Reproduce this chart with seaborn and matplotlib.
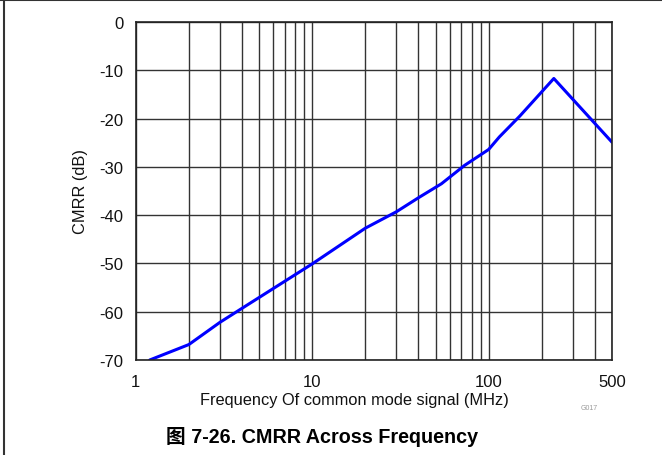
import matplotlib
matplotlib.use("Agg")
import matplotlib.pyplot as plt
import seaborn as sns
import pandas as pd
import numpy as np
from matplotlib.lines import Line2D
from matplotlib.ticker import FixedLocator, LogLocator, NullFormatter

freq_mhz = [1.2, 2.0, 3.0, 4.0, 10.0, 20.0, 30.0, 40.0, 54.0, 73.0, 100.0, 115.0, 150.0, 234.0, 500.0]
cmrr_db = [-70.0, -66.8, -62.2, -59.3, -50.1, -42.7, -39.3, -36.4, -33.5, -29.7, -26.4, -23.8, -19.5, -11.7, -24.9]
x_ticks = [1, 10, 100, 500]
x_tick_labels = ["1", "10", "100", "500"]
y_ticks = [-70, -60, -50, -40, -30, -20, -10, 0]

sns.set_theme(style="white")
plt.rcParams['font.family'] = ['Liberation Sans', 'Noto Sans CJK SC', 'DejaVu Sans']

df = pd.DataFrame({"freq": freq_mhz, "cmrr": cmrr_db})

fig = plt.figure(figsize=(6.62, 4.56), dpi=100)
ax = fig.add_axes([0.205, 0.2083, 0.7195, 0.7413])

ax.set_xscale("log")
ax.set_xlim(1, 500)
ax.set_ylim(-70, 0)

# grid
ax.xaxis.set_major_locator(FixedLocator(x_ticks))
ax.xaxis.set_minor_locator(LogLocator(base=10, subs=np.arange(2, 10), numticks=20))
ax.xaxis.set_minor_formatter(NullFormatter())
ax.set_xticklabels(x_tick_labels)
ax.set_yticks(y_ticks)
ax.set_yticklabels([str(v) for v in y_ticks])
ax.grid(True, which="both", axis="x", color="#333333", linewidth=1.0)
ax.grid(True, which="major", axis="y", color="#333333", linewidth=1.0)
ax.set_axisbelow(True)

sns.lineplot(data=df, x="freq", y="cmrr", ax=ax, color="#0000ff", linewidth=2.2)

for s in ax.spines.values():
    s.set_color("#222222")
    s.set_linewidth(1.2)

ax.tick_params(axis="both", which="both", length=0, labelsize=12, colors="#111111")
ax.tick_params(axis="y", pad=9)
ax.tick_params(axis="x", pad=10)
ax.set_xlabel("Frequency Of common mode signal (MHz)", fontsize=11.8, color="#111111", labelpad=4)
ax.xaxis.set_label_coords(0.459, -0.095)
ax.set_ylabel("CMRR (dB)", fontsize=11.8, color="#111111", labelpad=8)

fig.text(0.877, 0.105, "G017", fontsize=5, color="#999999", ha="left", va="center")
fig.text(0.486, 0.041, "图 7-26. CMRR Across Frequency", fontsize=14.2, fontweight="bold",
         ha="center", va="center", color="#000000")

fig.add_artist(Line2D([0.006, 0.006], [0, 1], transform=fig.transFigure, color="#333333", linewidth=1.5))
fig.add_artist(Line2D([0.0, 1.0], [0.998, 0.998], transform=fig.transFigure, color="#333333", linewidth=1.5))

fig.savefig("out.png", dpi=100)
